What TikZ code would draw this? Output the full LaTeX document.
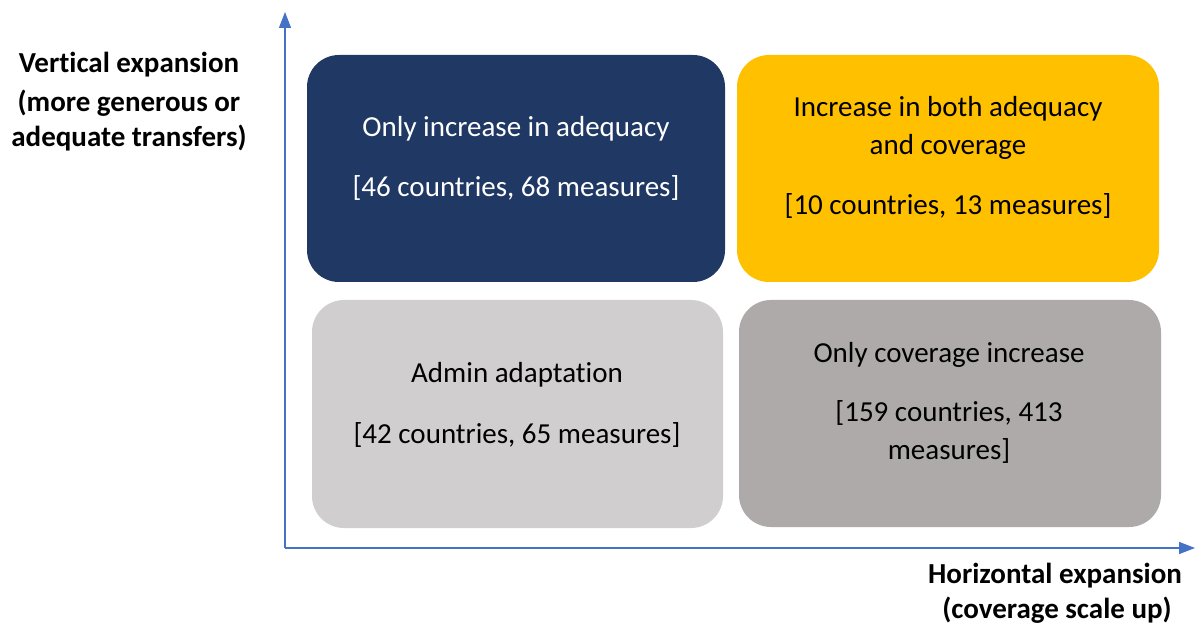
\documentclass[tikz,border=0pt]{standalone}
\usepackage{fontspec}
\setmainfont{Carlito}[Ligatures=NoCommon]
\usepackage{xcolor}
\usepackage{tikz}
\usetikzlibrary{arrows.meta}
\definecolor{adqblue}{HTML}{203864}
\definecolor{bothgold}{HTML}{FFC000}
\definecolor{admingray}{HTML}{D0CECE}
\definecolor{covgray}{HTML}{AEAAAA}
\definecolor{axisblue}{HTML}{4472C4}
\tikzset{
  quad/.style={rounded corners=32pt, inner sep=0pt, draw=none},
  lbl/.style={anchor=base, inner sep=0pt, font=\fontsize{29}{35}\selectfont},
  axlbl/.style={anchor=base, inner sep=0pt, font=\fontsize{29}{35}\selectfont\bfseries}
}

\begin{document}
\begin{tikzpicture}[x=1pt, y=-1pt]
	\useasboundingbox (0,0) rectangle (1195,628);
	
	% Axes
	\coordinate (origin) at (285,548);
	\coordinate (ytop) at (285,12);
	\coordinate (xend) at (1195,548);
	\draw[axisblue, line width=1.3pt, -{Triangle[length=16pt, width=12pt]}] (origin) -- (ytop);
	\draw[axisblue, line width=1.3pt, -{Triangle[length=16pt, width=12pt]}] (origin) -- (xend);
	
	% Quadrants
	\node[quad, fill=adqblue, minimum width=418pt, minimum height=227pt] (adq) at (516,168.5) {};
	\node[quad, fill=bothgold, minimum width=422pt, minimum height=227pt] (both) at (948,168.5) {};
	\node[quad, fill=admingray, minimum width=411pt, minimum height=228pt] (admin) at (517.5,414) {};
	\node[quad, fill=covgray, minimum width=422pt, minimum height=227pt] (cov) at (950,413.5) {};
	
	% Quadrant texts
	\node[lbl, white] (adqA) at (516,137) {Only increase in adequacy};
	\node[lbl, white] (adqB) at (516,197) {[46 countries, 68 measures]};
	
	\node[lbl] (bothA) at (948,117) {Increase in both adequacy};
	\node[lbl] (bothB) at (948,155) {and coverage};
	\node[lbl] (bothC) at (948,215) {[10 countries, 13 measures]};
	
	\node[lbl] (adminA) at (517,383) {Admin adaptation};
	\node[lbl] (adminB) at (517,443) {[42 countries, 65 measures]};
	
	\node[lbl] (covA) at (949,363) {Only coverage increase};
	\node[lbl] (covB) at (949,422) {[159 countries, 413};
	\node[lbl] (covC) at (949,460) {measures]};
	
	% Axis labels
	\node[axlbl] (vertA) at (129,73) {Vertical expansion};
	\node[axlbl] (vertB) at (129,112) {(more generous or};
	\node[axlbl] (vertC) at (129,147) {adequate transfers)};
	
	\node[axlbl] (horA) at (1055,583) {Horizontal expansion};
	\node[axlbl] (horB) at (1057,618) {(coverage scale up)};
\end{tikzpicture}
\end{document}
